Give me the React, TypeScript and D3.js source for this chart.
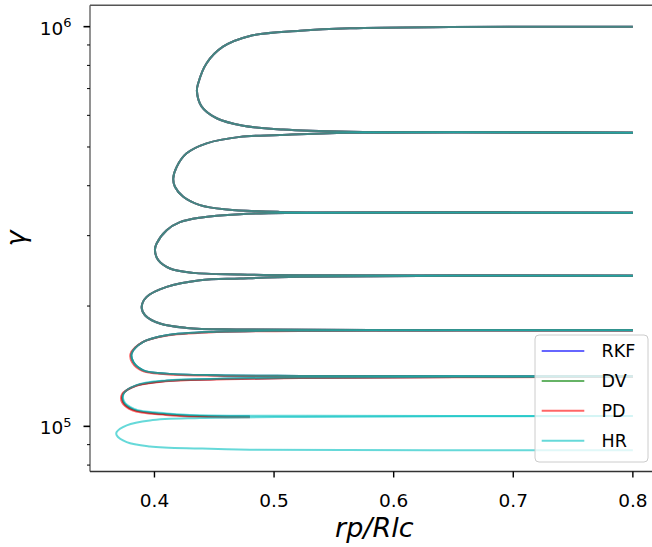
import React from "react";
import * as d3 from "d3";

type Pt = [number, number];

// Trajectory loops: [rp/Rlc, gamma]
const loop1: Pt[] = [
  [0.8, 1.0e6], [0.647, 0.998e6], [0.5634, 0.991e6], [0.5217, 0.977e6], [0.4798, 0.948e6],
  [0.4573, 0.891e6], [0.4436, 0.81e6], [0.4366, 0.722e6], [0.4355, 0.69e6], [0.4395, 0.631e6],
  [0.452, 0.59e6], [0.4742, 0.565e6], [0.5077, 0.553e6], [0.5635, 0.546e6], [0.65, 0.544e6], [0.8, 0.543e6],
];
const loop2: Pt[] = [
  [0.8, 0.543e6], [0.5635, 0.5427e6], [0.505, 0.5357e6], [0.4715, 0.53e6], [0.4436, 0.5105e6],
  [0.4269, 0.482e6], [0.4186, 0.446e6], [0.4157, 0.417e6], [0.4171, 0.3976e6], [0.4241, 0.3752e6],
  [0.438, 0.3577e6], [0.4604, 0.3489e6], [0.5049, 0.344e6], [0.62, 0.3428e6], [0.8, 0.3425e6],
];
const loop3: Pt[] = [
  [0.8, 0.3425e6], [0.5217, 0.342e6], [0.4715, 0.3396e6], [0.438, 0.3328e6], [0.4213, 0.3243e6],
  [0.4102, 0.3097e6], [0.4018, 0.2868e6], [0.4004, 0.276e6], [0.4032, 0.2605e6], [0.413, 0.2483e6],
  [0.4324, 0.2421e6], [0.4715, 0.2399e6], [0.5217, 0.2389e6], [0.8, 0.2382e6],
];
const loop4: Pt[] = [
  [0.8, 0.2382e6], [0.5217, 0.2368e6], [0.4715, 0.2344e6], [0.438, 0.232e6], [0.4102, 0.2233e6],
  [0.3935, 0.2108e6], [0.3893, 0.199e6], [0.3921, 0.1897e6], [0.4046, 0.1808e6], [0.4269, 0.1763e6],
  [0.4715, 0.1747e6], [0.8, 0.174e6],
];
const loop5: Pt[] = [
  [0.8, 0.174e6], [0.5217, 0.1735e6], [0.452, 0.1725e6], [0.4102, 0.169e6], [0.3906, 0.1626e6],
  [0.3809, 0.1521e6], [0.3823, 0.1449e6], [0.3906, 0.1381e6], [0.4102, 0.1355e6], [0.452, 0.1342e6],
  [0.5217, 0.1337e6], [0.8, 0.1332e6],
];
const loop6: Pt[] = [
  [0.8, 0.1332e6], [0.5217, 0.1324e6], [0.452, 0.1313e6], [0.4102, 0.13e6], [0.3851, 0.1266e6],
  [0.3739, 0.1207e6], [0.3739, 0.1151e6], [0.3823, 0.1101e6], [0.4102, 0.1072e6], [0.438, 0.1061e6],
  [0.4798, 0.1058e6],
];
const loop5PD: Pt[] = [
  [0.8, 0.1738e6], [0.5217, 0.1732e6], [0.452, 0.1721e6], [0.4095, 0.1686e6], [0.3896, 0.1622e6],
  [0.38, 0.1518e6], [0.3814, 0.1445e6], [0.3898, 0.1377e6], [0.4095, 0.1351e6], [0.452, 0.1339e6],
  [0.5217, 0.1334e6], [0.8, 0.133e6],
];
const loop6PD: Pt[] = [
  [0.8, 0.133e6], [0.5217, 0.1321e6], [0.452, 0.131e6], [0.4095, 0.1296e6], [0.3842, 0.1262e6],
  [0.3729, 0.1203e6], [0.373, 0.1147e6], [0.3815, 0.1097e6], [0.4095, 0.1068e6], [0.438, 0.1057e6],
  [0.4798, 0.1054e6],
];
const loop6HR: Pt[] = [
  [0.8, 0.1333e6], [0.5217, 0.1326e6], [0.452, 0.1316e6], [0.4102, 0.1303e6], [0.3855, 0.127e6],
  [0.3745, 0.1212e6], [0.3745, 0.1156e6], [0.383, 0.1106e6], [0.4102, 0.1077e6], [0.438, 0.1066e6],
  [0.5217, 0.1063e6], [0.8, 0.1062e6],
];
const loop7HR: Pt[] = [
  [0.8, 0.1062e6], [0.5217, 0.1056e6], [0.438, 0.1049e6], [0.3962, 0.1035e6], [0.3768, 0.1006e6],
  [0.3684, 0.0968e6], [0.3684, 0.095e6], [0.3768, 0.0913e6], [0.3962, 0.0891e6], [0.438, 0.088e6],
  [0.4798, 0.0874e6], [0.8, 0.0871e6],
];

const seriesNames = ["RKF", "DV", "PD", "HR"];
const seriesColors = ["#0000ff", "#008000", "#ff0000", "#00bfbf"];
const seriesLoops: Pt[][][] = [
  [loop1, loop2, loop3, loop4, loop5, loop6],
  [loop1, loop2, loop3, loop4, loop5, loop6],
  [loop1, loop2, loop3, loop4, loop5PD, loop6PD],
  [loop1, loop2, loop3, loop4, loop5, loop6HR, loop7HR],
];

const xTicks = [0.4, 0.5, 0.6, 0.7, 0.8];
const xTickLabels = ["0.4", "0.5", "0.6", "0.7", "0.8"];
const yMajorTicks = [1e5, 1e6];
const yMajorExp = ["5", "6"];
const yMinorTicks = [8e4, 9e4, 2e5, 3e5, 4e5, 5e5, 6e5, 7e5, 8e5, 9e5];
const xDomain: [number, number] = [0.3461, 0.8216];
const yDomain: [number, number] = [77100, 1131000];

export default function App() {
  const left = 90, right = 658.7, top = 5.3, bottom = 471.5;
  const x = d3.scaleLinear().domain(xDomain).range([left, right]);
  const y = d3.scaleLog().domain(yDomain).range([bottom, top]);
  const line = d3
    .line<Pt>()
    .x((d) => x(d[0]))
    .y((d) => y(d[1]))
    .curve(d3.curveCatmullRom.alpha(0.5));
  const font = "DejaVu Sans, sans-serif";

  return (
    <svg
      width={652}
      height={547}
      style={{ position: "absolute", left: 0, top: 0, background: "#fff" }}
      fontFamily={font}
    >
      <defs>
        <clipPath id="plotclip">
          <rect x={left} y={top} width={right - left} height={bottom - top} />
        </clipPath>
      </defs>
      <rect x={0} y={0} width={652} height={547} fill="#fff" />
      <g clipPath="url(#plotclip)">
        {seriesLoops.map((loops, si) =>
          loops.map((lp, li) => (
            <path
              key={`${si}-${li}`}
              d={line(lp) || ""}
              fill="none"
              stroke={seriesColors[si]}
              strokeOpacity={0.6}
              strokeWidth={2}
            />
          ))
        )}
      </g>
      {/* spines */}
      <line x1={left} x2={left} y1={top} y2={bottom} stroke="#777" strokeWidth={1.6} />
      <line x1={left} x2={right} y1={top} y2={top} stroke="#555" strokeWidth={1.4} />
      <line x1={left} x2={right} y1={bottom} y2={bottom} stroke="#333" strokeWidth={1.4} />
      <line x1={right} x2={right} y1={top} y2={bottom} stroke="#555" strokeWidth={1.4} />
      {/* x ticks */}
      {xTicks.map((t, i) => (
        <g key={"xt" + i}>
          <line x1={x(t)} x2={x(t)} y1={bottom} y2={bottom + 6} stroke="#000" strokeWidth={1.4} />
          <text x={x(t)} y={507} textAnchor="middle" fontSize={18.5} fill="#000">
            {xTickLabels[i]}
          </text>
        </g>
      ))}
      {/* y ticks */}
      {yMajorTicks.map((t, i) => (
        <g key={"yt" + i}>
          <line x1={left - 6.5} x2={left} y1={y(t)} y2={y(t)} stroke="#000" strokeWidth={1.6} />
          <text x={71.5} y={y(t) + 8} textAnchor="end" fontSize={18.5} fill="#000">
            <tspan>10</tspan>
            <tspan dy={-7.8} fontSize={13}>
              {yMajorExp[i]}
            </tspan>
          </text>
        </g>
      ))}
      {yMinorTicks.map((t, i) => (
        <line key={"ym" + i} x1={left - 3} x2={left} y1={y(t)} y2={y(t)} stroke="#000" strokeWidth={1} />
      ))}
      {/* axis labels */}
      <text
        x={(left + right) / 2}
        y={537}
        textAnchor="middle"
        fontSize={27}
        fontStyle="italic"
        fill="#000"
      >
        rp/Rlc
      </text>
      <text
        transform={`translate(25, ${(top + bottom) / 2}) rotate(-90)`}
        textAnchor="middle"
        fontSize={27}
        fontStyle="italic"
        fill="#000"
      >
        γ
      </text>
      {/* legend */}
      <rect x={535} y={335} width={113} height={127} rx={4} fill="#fff" fillOpacity={0.8} stroke="#ccc" strokeWidth={1} />
      {seriesNames.map((n, i) => (
        <g key={"lg" + i}>
          <line
            x1={541.7}
            x2={584.3}
            y1={351 + i * 29.9}
            y2={351 + i * 29.9}
            stroke={seriesColors[i]}
            strokeOpacity={0.6}
            strokeWidth={2}
          />
          <text x={601.5} y={351 + i * 29.9 + 6.4} fontSize={17.5} fill="#000">
            {n}
          </text>
        </g>
      ))}
    </svg>
  );
}
